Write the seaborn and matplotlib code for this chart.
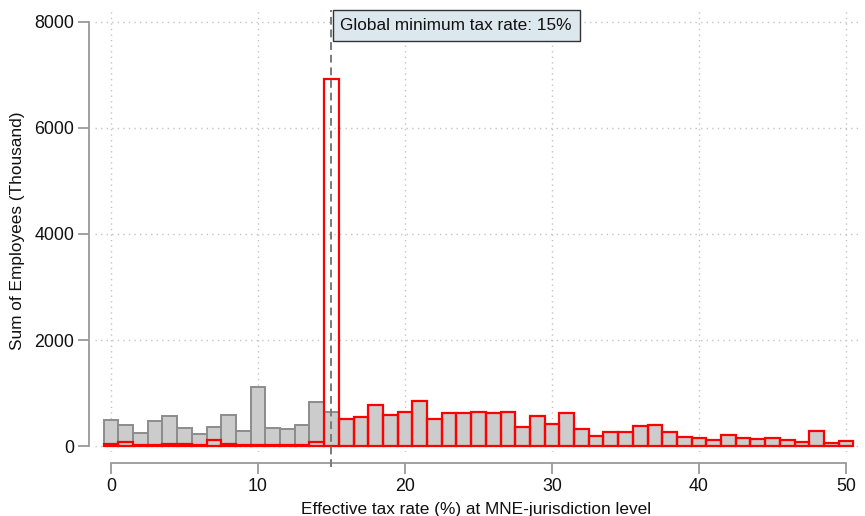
import numpy as np
import pandas as pd
import matplotlib
matplotlib.use("Agg")
import matplotlib.pyplot as plt
import seaborn as sns

# Effective tax rate bins (%) and employees per bin (thousand)
tax_rate = list(range(0, 51))
all_employees = [
    490, 390, 240, 472, 560, 346, 220, 352, 585, 277,
    1113, 333, 314, 403, 824, 648, 510, 547, 774, 591,
    636, 843, 516, 623, 623, 636, 623, 648, 352, 572,
    421, 616, 320, 189, 270, 270, 371, 403, 264, 176,
    145, 119, 208, 145, 132, 151, 119, 82, 277, 63,
    95,
]
# Employees whose tax rate is raised to the 15% minimum
topup_employees = [
    40, 80, 10, 15, 40, 40, 10, 110, 40, 10,
    25, 20, 20, 20, 80, 6930, 510, 547, 774, 591,
    636, 843, 516, 623, 623, 636, 623, 648, 352, 572,
    421, 616, 320, 189, 270, 270, 371, 403, 264, 176,
    145, 119, 208, 145, 132, 151, 119, 82, 277, 63,
    95,
]
min_rate = 15
y_ticks = [0, 2000, 4000, 6000, 8000]
x_ticks = [0, 10, 20, 30, 40, 50]

df = pd.DataFrame({"rate": tax_rate, "all": all_employees, "topup": topup_employees})

sns.set_theme(style="white")
plt.rcParams["font.family"] = ["Liberation Sans", "DejaVu Sans"]

W, H = 865, 516
fig = plt.figure(figsize=(W / 100, H / 100), dpi=100)
ax = fig.add_axes([95 / W, 1 - 452 / H, (858 - 95) / W, (452 - 10) / H])

sns.histplot(data=df, x="rate", weights="all", discrete=True, shrink=1,
             color="#cccccc", edgecolor="#8c8c8c", linewidth=1.4, alpha=1,
             ax=ax, zorder=2)
sns.histplot(data=df, x="rate", weights="topup", discrete=True, shrink=1,
             fill=False, color="red", edgecolor="red", linewidth=1.6,
             ax=ax, zorder=3)

ax.set_xlim(-1.09, 50.82)
ax.set_ylim(-113, 8226)
ax.set_xticks(x_ticks)
ax.set_yticks(y_ticks)

for v in y_ticks:
    ax.axhline(v, color="#c4c4c4", lw=1.0, ls=(0, (1, 3)), zorder=0)
for v in x_ticks:
    ax.axvline(v, color="#c4c4c4", lw=1.0, ls=(0, (1, 3)), zorder=0)

ax.axvline(min_rate, ymin=-0.035, ymax=1, color="#7a7a7a", lw=1.4,
           ls=(0, (4, 2.5)), zorder=4, clip_on=False)

ax.text(min_rate + 0.6, 0.965, f"Global minimum tax rate: {min_rate}%",
        transform=ax.get_xaxis_transform(), ha="left", va="center",
        fontsize=12.4, color="#111111", zorder=6,
        bbox=dict(boxstyle="square,pad=0.45", fc="#dde7ee", ec="#333333", lw=1.0))

for side in ["top", "right"]:
    ax.spines[side].set_visible(False)
ax.spines["left"].set_position(("outward", 4))
ax.spines["bottom"].set_position(("outward", 8))
ax.spines["left"].set_bounds(0, 8000)
ax.spines["bottom"].set_bounds(0, 50)
for side in ["left", "bottom"]:
    ax.spines[side].set_color("#9a9a9a")
    ax.spines[side].set_linewidth(1.3)
ax.tick_params(axis="both", which="major", direction="out", length=8, width=1.3,
               color="#9a9a9a", labelsize=12.8, labelcolor="#111111", pad=3,
               left=True, bottom=True)

ax.set_xlabel("Effective tax rate (%) at MNE-jurisdiction level", fontsize=12.4,
              color="#111111", labelpad=5)
ax.set_ylabel("Sum of Employees (Thousand)", fontsize=12.4, color="#111111", labelpad=7)
ax.set_facecolor("white")

fig.savefig("out.png", dpi=100, facecolor="white")
